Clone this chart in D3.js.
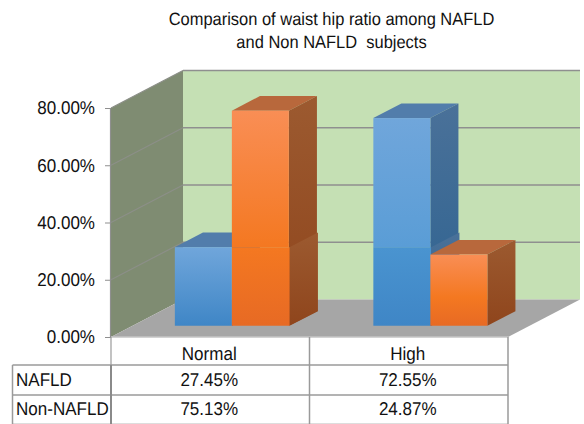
<!DOCTYPE html>
<html>
<head>
<meta charset="utf-8">
<script src="https://cdn.jsdelivr.net/npm/d3@7"></script>
<style>
  html, body { margin: 0; padding: 0; background: #fff; }
  svg { display: block; }
  text { font-family: "Liberation Sans", Arial, sans-serif; fill: #111; text-rendering: geometricPrecision; }
</style>
</head>
<body>
<svg id="chart" width="584" height="424"></svg>
<script>
var categories = ["Normal", "High"];
var seriesNames = ["NAFLD", "Non-NAFLD"];
var nafld = [27.45, 72.55];
var nonNafld = [75.13, 24.87];
var tickValues = [0, 20, 40, 60, 80];
var titleLines = ["Comparison of waist hip ratio among NAFLD", "and Non NAFLD  subjects"];

var svg = d3.select("#chart");
var defs = svg.append("defs");

// 3d box: depth is the shift of the back wall from the front of the floor
var depthX = 72, depthY = -37.5;
var barFront = 0.3, barBack = 0.69;
// the text in the picture is a bit squeezed sideways
var squeeze = 0.92;

var y = d3.scaleLinear().domain([0, 80]).range([337, 108]);
var x0 = d3.scaleBand().domain(categories).range([111, 508]);
var x1 = d3.scaleBand().domain(seriesNames).range([0, x0.bandwidth()])
  .paddingInner(0).paddingOuter(0.741);

function project(px, v, d) {
  return [px + depthX * d, y(v) + depthY * d];
}
function poly(points) {
  return points.map(function (p) { return p.join(","); }).join(" ");
}

function gradient(id, stops) {
  var g = defs.append("linearGradient").attr("id", id)
    .attr("x1", 0).attr("y1", 0).attr("x2", 0).attr("y2", 1);
  stops.forEach(function (s) {
    g.append("stop").attr("offset", s[0]).attr("stop-color", s[1]);
  });
}
gradient("front0top", [[0, "#70a6db"], [1, "#5a9dd6"]]);
gradient("front0low", [[0, "#4a94d0"], [1, "#3f86c6"]]);
gradient("front0all", [[0, "#70a6db"], [1, "#3f86c6"]]);
gradient("front1top", [[0, "#f98e55"], [1, "#f47821"]]);
gradient("front1low", [[0, "#f47821"], [1, "#e76a24"]]);
gradient("front1all", [[0, "#f98e55"], [0.6, "#f47821"], [1, "#e76a24"]]);
gradient("side0", [[0, "#4a7199"], [1, "#2d6290"]]);
gradient("side1", [[0, "#9c5a30"], [1, "#8f451c"]]);

var left = x0.range()[0], right = x0.range()[1];

// walls and floor
svg.append("polygon").attr("fill", "#c5e0b4")
  .attr("points", poly([project(left, 80, 1), project(right, 80, 1), project(right, 0, 1), project(left, 0, 1)]));
svg.append("polygon").attr("fill", "#7f8c72")
  .attr("points", poly([project(left, 80, 0), project(left, 80, 1), project(left, 0, 1), project(left, 0, 0)]));
svg.append("polygon").attr("fill", "#a6a6a6")
  .attr("points", poly([project(left, 0, 0), project(left, 0, 1), project(right, 0, 1), project(right, 0, 0)]));

// gridlines
tickValues.slice(1).forEach(function (t) {
  var a = project(left, t, 0), b = project(left, t, 1), c = project(right, t, 1);
  svg.append("line").attr("x1", a[0]).attr("y1", a[1]).attr("x2", b[0]).attr("y2", b[1])
    .attr("stroke", "#8c8f88").attr("stroke-width", 1.2);
  svg.append("line").attr("x1", b[0]).attr("y1", b[1]).attr("x2", c[0]).attr("y2", c[1])
    .attr("stroke", "#8f8f8f").attr("stroke-width", 1.6);
});

// y axis
var axis = svg.append("g").attr("transform", "translate(110,0)")
  .call(d3.axisLeft(y).tickValues(tickValues).tickSize(5).tickPadding(9)
    .tickFormat(function (d) { return d3.format(".2f")(d) + "%"; }));
axis.select(".domain").attr("stroke", "#8f8f8f").attr("stroke-width", 1.2);
axis.selectAll(".tick line").attr("stroke", "#8f8f8f");
axis.selectAll("text")
  .attr("font-size", 18.5).attr("fill", "#111")
  .attr("x", -15 / squeeze)
  .attr("transform", "scale(" + squeeze + ",1)")
  .style("font-family", '"Liberation Sans", Arial, sans-serif');

// bars, the tall ones show a seam at the height of the first short bar like in the picture
var values = [nafld, nonNafld];
var seam = nafld[0];
function drawBar(s, c) {
  var v = values[s][c];
  var xa = x0(categories[c]) + x1(seriesNames[s]);
  var xb = xa + x1.bandwidth();
  var w = x1.bandwidth();
  var g = svg.append("g");
  g.append("polygon").attr("fill", s === 0 ? "#527dab" : "#b8683c")
    .attr("points", poly([project(xa, v, barFront), project(xb, v, barFront), project(xb, v, barBack), project(xa, v, barBack)]));
  g.append("polygon").attr("fill", "url(#side" + s + ")")
    .attr("points", poly([project(xb, v, barFront), project(xb, v, barBack), project(xb, 0, barBack), project(xb, 0, barFront)]));
  var f = project(xa, v, barFront), m = project(xa, seam, barFront), b = project(xa, 0, barFront);
  if (v > seam) {
    g.append("rect").attr("x", f[0]).attr("y", f[1]).attr("width", w).attr("height", m[1] - f[1])
      .attr("fill", "url(#front" + s + "top)");
    g.append("polygon").attr("fill", "url(#side" + s + ")")
      .attr("points", poly([project(xb + 0.7, seam, barFront), project(xb + 1, seam, barBack), project(xb + 1, 0, barBack), project(xb + 0.7, 0, barFront)]));
    g.append("rect").attr("x", m[0]).attr("y", m[1]).attr("width", w + 0.7).attr("height", b[1] - m[1])
      .attr("fill", "url(#front" + s + "low)");
  } else {
    g.append("rect").attr("x", f[0]).attr("y", f[1]).attr("width", w).attr("height", b[1] - f[1])
      .attr("fill", "url(#front" + s + "all)");
  }
}
// the orange box always sits over the blue one
drawBar(0, 0); drawBar(1, 0); drawBar(0, 1); drawBar(1, 1);

function label(t, xx, yy, anchor, size) {
  svg.append("text")
    .attr("transform", "translate(" + xx + "," + yy + ") scale(" + squeeze + ",1)")
    .attr("text-anchor", anchor).attr("font-size", size)
    .style("white-space", "pre").text(t);
}

// title
titleLines.forEach(function (t, i) {
  label(t, 331.5, 25 + i * 23, "middle", 17.9);
});

// data table
var rowY = [337, 365, 395, 424];
var tableLeft = 12.5;
var lineColor = "#9a9a9a";
function hline(xa, xb, yy, c, w) {
  svg.append("line").attr("x1", xa).attr("x2", xb).attr("y1", yy).attr("y2", yy).attr("stroke", c).attr("stroke-width", w);
}
function vline(xx, ya, yb, c, w) {
  svg.append("line").attr("x1", xx).attr("x2", xx).attr("y1", ya).attr("y2", yb).attr("stroke", c).attr("stroke-width", w);
}
hline(left, right, 337, "#c4c4c4", 1.5);
hline(tableLeft, right, rowY[1], lineColor, 1.5);
hline(tableLeft, right, rowY[2], lineColor, 1.5);
hline(tableLeft, right, rowY[3] - 0.5, "#dddddd", 1);
vline(tableLeft, rowY[1], rowY[3], lineColor, 1.5);
vline(left, rowY[0], rowY[1], lineColor, 1.2);
vline(left, rowY[1], rowY[3], "#8a8a8a", 2);
categories.forEach(function (c) {
  vline(x0(c) + x0.bandwidth(), rowY[0], rowY[3], lineColor, 1.5);
});

categories.forEach(function (c, i) {
  var cx = x0(c) + x0.bandwidth() / 2;
  label(c, cx - 1, 360, "middle", 18.5);
  label(d3.format(".2f")(nafld[i]) + "%", cx - 1, 386, "middle", 18.5);
  label(d3.format(".2f")(nonNafld[i]) + "%", cx - 1, 415, "middle", 18.5);
});
label(seriesNames[0], 16, 386, "start", 18.5);
label(seriesNames[1], 16, 415, "start", 18.5);
</script>
</body>
</html>
